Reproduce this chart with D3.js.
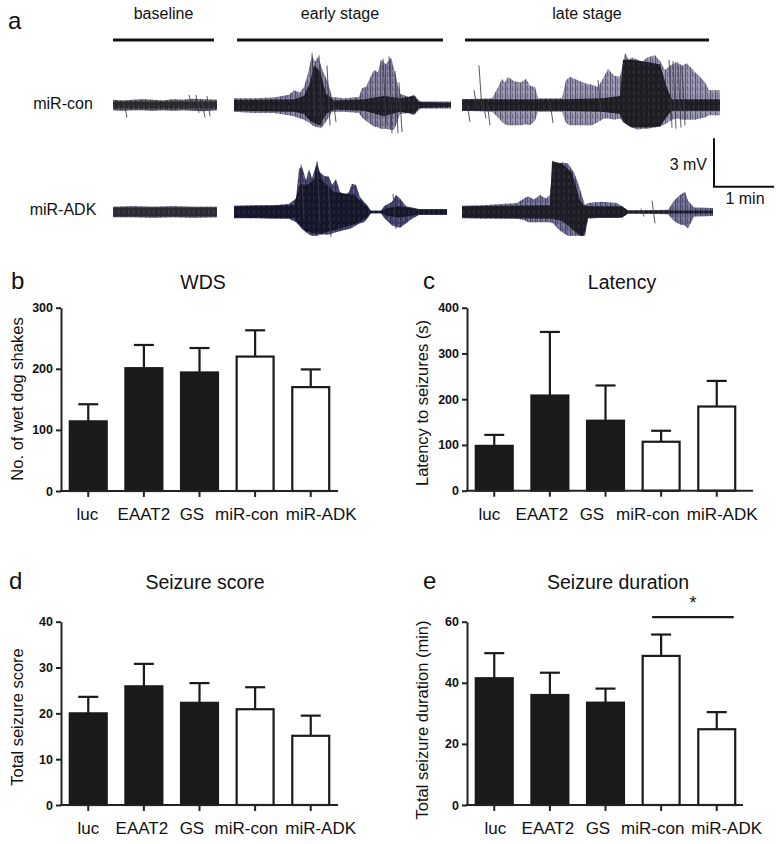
<!DOCTYPE html>
<html><head><meta charset="utf-8">
<script src="https://cdn.jsdelivr.net/npm/d3@7"></script>
<style>
body{margin:0;background:#fff}
svg{display:block}
text{font-family:"Liberation Sans", Arial, Helvetica, sans-serif;fill:#111}
</style>
</head><body>
<svg id="chart" width="782" height="844"></svg>
<script>
// ---------------- DATA ----------------
const categories = ["luc","EAAT2","GS","miR-con","miR-ADK"];
const isFilled = [true,true,true,false,false];

const wdsMean = [114,201,194,220,170];
const wdsErr  = [28,38,40,43,29];
const wdsTicks = [0,100,200,300];

const latMean = [98,208,153,107,184];
const latErr  = [24,139,77,24,56];
const latTicks = [0,100,200,300,400];

const scoreMean = [20,25.9,22.3,20.9,15.1];
const scoreErr  = [3.6,4.9,4.3,4.8,4.4];
const scoreTicks = [0,10,20,30,40];

const durMean = [41.5,36,33.5,48.8,24.8];
const durErr  = [8.2,7.3,4.6,7.0,5.6];
const durTicks = [0,20,40,60];

const stageLabels = ["baseline","early stage","late stage"];
const stageSpanSec = [101,206,244];
const rowLabels = ["miR-con","miR-ADK"];

// EEG envelopes: [time s, upper mV, lower mV]
const conBaseOuter = [[0,.32,.32],[10,.28,.35],[20,.32,.32],[30,.35,.32],[40,.32,.35],[50,.28,.32],[60,.35,.35],[70,.32,.32],[80,.39,.35],[90,.35,.39],[104,.32,.32]];
const conBaseCore  = [[0,.21,.21],[50,.21,.21],[104,.21,.21]];
const conBaseSpikes = [[12,.14,.77],[77,.63,.21],[84,.63,.49],[90,.21,.77],[95,.56,.7]];

const conEarlyOuter = [[0,.42,.42],[20,.42,.49],[40,.46,.49],[55,.63,.63],[60,.91,.7],[66,.77,.84],[70,1.12,.91],[74,1.96,1.05],[76,2.52,1.12],[78,3.08,1.26],[81,2.66,1.33],[84,3.01,1.4],[88,2.24,1.4],[91,1.82,1.12],[94,1.4,.84],[98,.49,.42],[110,.42,.42],[125,.49,.49],[128,1.05,.77],[132,1.12,.98],[135,1.54,1.12],[140,2.17,1.33],[144,2.03,1.4],[147,2.8,1.47],[152,2.52,1.47],[157,2.94,1.54],[160,2.24,1.54],[162,1.75,1.26],[166,.7,.56],[175,.49,.49],[180,.63,.63],[184,.35,.35],[187,.21,.21],[217,.21,.21]];
const conEarlyCore  = [[0,.32,.35],[60,.35,.42],[70,.56,.56],[76,1.4,.98],[80,2.45,1.12],[86,2.1,1.26],[92,.7,.56],[100,.28,.28],[130,.35,.35],[150,.56,.7],[166,.42,.42],[180,.56,.56],[185,.18,.18],[217,.14,.14]];
const conEarlySpikes = [[79,3.22,.84],[86,3.08,1.26],[94,2.45,1.26],[100,.35,1.05],[150,2.87,1.12],[156,3.01,1.75],[162,2.1,1.75],[166,1.4,1.68]];

const conLateOuter = [[0,.35,.35],[30,.42,.42],[35,.98,.7],[40,1.61,1.05],[43,1.4,1.19],[46,1.75,1.26],[52,1.47,1.26],[59,1.4,1.26],[64,1.61,1.19],[68,1.19,1.26],[73,1.12,.98],[76,.42,.42],[100,.42,.42],[104,1.54,1.12],[108,1.75,1.26],[113,1.61,1.26],[118,1.47,1.26],[124,1.33,1.26],[130,1.26,1.26],[136,1.12,1.05],[142,1.75,.84],[146,2.24,.84],[152,1.82,.91],[158,1.75,.84],[163,3.22,1.12],[167,2.8,1.33],[170,2.94,1.4],[176,2.8,1.54],[180,2.66,1.47],[185,2.94,1.47],[193,3.08,1.4],[198,2.73,1.33],[203,2.17,1.19],[210,2.52,.91],[215,2.66,.84],[220,2.45,.91],[225,2.59,.91],[233,2.03,.91],[238,1.75,.84],[243,1.4,.77],[247,.91,.63],[258,.91,.63]];
const conLateCore  = [[0,.35,.35],[100,.35,.35],[140,.42,.42],[158,.56,.56],[161,2.8,1.05],[170,2.8,1.4],[185,2.66,1.4],[198,2.52,1.33],[205,1.05,.7],[210,.35,.35],[258,.35,.35]];
const conLateSpikes = [[6,.14,1.05],[13,.91,.21],[18,2.45,.35],[22,.21,.84],[26,.21,1.26],[89,.21,1.12],[137,1.54,.42],[208,2.8,1.4],[212,2.73,1.47],[217,2.52,1.4],[221,2.38,1.26]];

const adkBaseOuter = [[0,.32,.32],[20,.35,.32],[40,.32,.35],[60,.35,.32],[80,.32,.35],[104,.32,.32]];
const adkBaseCore  = [[0,.25,.25],[104,.25,.25]];
const adkBaseSpikes = [];

const adkEarlyOuter = [[0,.39,.39],[20,.42,.39],[40,.42,.42],[55,.49,.42],[62,.84,.63],[65,2.66,.84],[68,2.8,1.05],[72,1.96,1.26],[75,2.66,1.4],[78,2.1,1.47],[83,3.08,1.47],[86,2.45,1.4],[90,2.24,1.4],[95,2.17,1.4],[98,1.68,1.33],[102,2.03,1.26],[106,1.26,1.19],[110,.98,1.12],[115,1.26,1.05],[118,1.75,.98],[122,1.68,.84],[126,.91,.7],[130,.63,.63],[134,.35,.35],[137,.07,.07],[147,.07,.07],[150,.35,.35],[158,.63,.84],[162,1.05,.91],[166,.84,.98],[172,.35,.7],[178,.28,.42],[185,.18,.18],[213,.18,.18]];
const adkEarlyCore  = [[0,.35,.35],[60,.42,.39],[66,1.75,.84],[72,1.68,1.19],[80,1.96,1.33],[83,2.94,1.33],[88,1.96,1.33],[100,1.26,1.12],[120,1.05,.77],[132,.42,.42],[136,.07,.07],[147,.07,.07],[152,.21,.21],[165,.35,.35],[185,.14,.14],[213,.14,.14]];
const adkEarlySpikes = [[68,2.94,.35],[84,3.15,.7],[95,2.24,1.54],[160,1.12,1.05]];

const adkLateOuter = [[0,.39,.39],[20,.42,.42],[40,.49,.42],[55,.56,.42],[62,.84,.49],[66,.98,.63],[72,.77,.63],[78,1.05,.63],[84,.84,.63],[88,1.05,.63],[91,3.22,.7],[95,2.8,.98],[100,3.08,1.26],[106,3.01,1.47],[112,2.45,1.47],[116,1.82,1.47],[123,.42,1.47],[126,.56,.42],[140,.63,.35],[155,.56,.35],[163,.21,.21],[166,.1,.1],[206,.14,.14],[212,.7,.56],[218,1.05,.77],[223,1.26,.84],[226,.7,1.02],[232,.28,.28],[251,.25,.25]];
const adkLateCore  = [[0,.35,.35],[88,.42,.42],[90,3.15,.42],[100,3.01,.56],[110,2.45,1.05],[118,.7,1.47],[122,.42,1.47],[126,.35,.35],[160,.35,.35],[166,.1,.1],[251,.1,.1]];
const adkLateSpikes = [[191,.7,.7],[180,.21,.28]];

const scaleBarMv = 3, scaleBarSec = 60;

// ---------------- DRAW ----------------
const svg = d3.select("#chart");
const defs = svg.append("defs");
const pat = defs.append("pattern").attr("id","tex").attr("width",5).attr("height",7).attr("patternUnits","userSpaceOnUse");
pat.append("rect").attr("x",0).attr("width",1).attr("height",7).attr("fill","#1e1e2a").attr("opacity",0.5);
pat.append("rect").attr("x",2).attr("y",2).attr("width",1).attr("height",5).attr("fill","#1e1e2a").attr("opacity",0.35);
pat.append("rect").attr("x",3.5).attr("width",0.8).attr("height",4).attr("fill","#ffffff").attr("opacity",0.25);

// Panel a
const pxPerSec = 1, pxPerMv = 16.13;
const segStart = [113,234,462];
const rowY = [105,212];

svg.append("text").attr("x",8).attr("y",29).attr("font-size",24).text("a");
stageLabels.forEach((s,i)=>{
  const x = d3.scaleLinear().domain([0,1]).range([segStart[i]+ (i===0?0:3), segStart[i]+(i===0?0:3)+pxPerSec]);
  svg.append("line").attr("x1",x(0)).attr("x2",x(stageSpanSec[i])).attr("y1",40).attr("y2",40)
     .attr("stroke","#111").attr("stroke-width",3);
  svg.append("text").attr("x",(x(0)+x(stageSpanSec[i]))/2).attr("y",19).attr("text-anchor","middle")
     .attr("font-size",16).text(s);
});
rowLabels.forEach((r,i)=>{
  svg.append("text").attr("x",63).attr("y",[109,215][i]).attr("text-anchor","middle").attr("font-size",16).text(r);
});

const traces = [
  {row:0,seg:0,outer:conBaseOuter,core:conBaseCore,spikes:conBaseSpikes,of:"#5c5b66",cf:"#2a2a2c"},
  {row:0,seg:1,outer:conEarlyOuter,core:conEarlyCore,spikes:conEarlySpikes,of:"#807e9c",cf:"#1d1d26"},
  {row:0,seg:2,outer:conLateOuter,core:conLateCore,spikes:conLateSpikes,of:"#9290ac",cf:"#1d1d22"},
  {row:1,seg:0,outer:adkBaseOuter,core:adkBaseCore,spikes:adkBaseSpikes,of:"#4a4a58",cf:"#2c2c34"},
  {row:1,seg:1,outer:adkEarlyOuter,core:adkEarlyCore,spikes:adkEarlySpikes,of:"#454470",cf:"#15152a"},
  {row:1,seg:2,outer:adkLateOuter,core:adkLateCore,spikes:adkLateSpikes,of:"#6f6e96",cf:"#1c1c26"}
];
traces.forEach(tr=>{
  const x = d3.scaleLinear().domain([0,1]).range([segStart[tr.seg], segStart[tr.seg]+pxPerSec]);
  const y = d3.scaleLinear().domain([0,1]).range([rowY[tr.row], rowY[tr.row]-pxPerMv]);
  const area = d3.area().x(d=>x(d[0])).y1(d=>y(d[1])).y0(d=>y(-d[2])).curve(d3.curveLinear);
  const g = svg.append("g");
  g.append("path").attr("d",area(tr.outer)).attr("fill",tr.of);
  g.append("path").attr("d",area(tr.outer)).attr("fill","url(#tex)");
  g.append("path").attr("d",area(tr.core)).attr("fill",tr.cf);
  g.append("path").attr("d",area(tr.core)).attr("fill","url(#tex)").attr("opacity",0.6);
  g.selectAll("line.sp").data(tr.spikes).join("line")
    .attr("x1",d=>x(d[0])-1).attr("x2",d=>x(d[0])+2)
    .attr("y1",d=>y(d[1])).attr("y2",d=>y(-d[2]))
    .attr("stroke","#3a3a48").attr("stroke-width",1).attr("opacity",0.85);
});

// scale bar
{
  const x = d3.scaleLinear().domain([0,1]).range([714, 714+pxPerSec]);
  const y = d3.scaleLinear().domain([0,1]).range([186.7, 186.7-pxPerMv]);
  svg.append("path").attr("d",`M${x(0)},${y(scaleBarMv)}V${y(0)}H${x(scaleBarSec)}`)
     .attr("fill","none").attr("stroke","#111").attr("stroke-width",2);
  svg.append("text").attr("x",707).attr("y",170).attr("text-anchor","end").attr("font-size",16).text("3 mV");
  svg.append("text").attr("x",(x(0)+x(scaleBarSec))/2+1).attr("y",204).attr("text-anchor","middle").attr("font-size",16).text("1 min");
}

// Bar panels
function panel(cfg){
  const g = svg.append("g");
  const x = d3.scaleBand().domain(categories).range([cfg.x0,cfg.x1]).paddingInner(0.3).paddingOuter(0.14);
  const y = d3.scaleLinear().domain([0,cfg.max]).range([cfg.yBot,cfg.yTop]);
  const bw = x.bandwidth();

  g.selectAll("rect.bar").data(cfg.mean).join("rect")
    .attr("x",(d,i)=>x(categories[i])+1).attr("width",bw-2)
    .attr("y",d=>y(d)).attr("height",d=>cfg.yBot-y(d))
    .attr("fill",(d,i)=>isFilled[i]?"#1a1a1a":"#fff")
    .attr("stroke","#1a1a1a").attr("stroke-width",2.2);
  const eb = g.selectAll("g.eb").data(cfg.mean).join("g");
  eb.append("line").attr("x1",(d,i)=>x(categories[i])+bw/2).attr("x2",(d,i)=>x(categories[i])+bw/2)
    .attr("y1",d=>y(d)).attr("y2",(d,i)=>y(d+cfg.err[i]))
    .attr("stroke","#1a1a1a").attr("stroke-width",2.2);
  eb.append("line").attr("x1",(d,i)=>x(categories[i])+bw/2-10).attr("x2",(d,i)=>x(categories[i])+bw/2+10)
    .attr("y1",(d,i)=>y(d+cfg.err[i])).attr("y2",(d,i)=>y(d+cfg.err[i]))
    .attr("stroke","#1a1a1a").attr("stroke-width",2.2);

  const ya = g.append("g").attr("transform",`translate(${cfg.x0},0)`)
    .call(d3.axisLeft(y).tickValues(cfg.ticks).tickSize(5).tickSizeOuter(0).tickPadding(3));
  ya.select(".domain").attr("stroke","#222").attr("stroke-width",2);
  ya.selectAll(".tick line").attr("stroke","#222").attr("stroke-width",2);
  ya.selectAll(".tick text").attr("font-size",12.5).attr("font-weight","bold").attr("fill","#222")
    .attr("font-family",'"Liberation Sans", Arial, sans-serif');

  const xa = g.append("g").attr("transform",`translate(0,${cfg.yBot})`)
    .call(d3.axisBottom(x).tickSize(6).tickSizeOuter(0).tickPadding(11));
  xa.select(".domain").remove();
  xa.append("line").attr("x1",cfg.x0-1).attr("x2",cfg.axisEnd).attr("y1",0).attr("y2",0)
    .attr("stroke","#222").attr("stroke-width",2);
  xa.selectAll(".tick line").attr("stroke","#222").attr("stroke-width",2);
  xa.selectAll(".tick text").attr("font-size",17).attr("fill","#111")
    .attr("font-family",'"Liberation Sans", Arial, sans-serif')
    .attr("dx",(d,i)=>cfg.labelShift[i]);

  g.append("text").attr("x",cfg.letterX).attr("y",cfg.titleY).attr("font-size",24).text(cfg.letter);
  g.append("text").attr("x",cfg.titleX).attr("y",cfg.titleY).attr("text-anchor","middle").attr("font-size",19.5).text(cfg.title);
  g.append("text").attr("transform",`translate(${cfg.ylabX},${cfg.ylabY}) rotate(-90)`)
    .attr("text-anchor","middle").attr("font-size",16.5).text(cfg.ylab);
  return {x,y,g};
}

panel({x0:61,x1:338,axisEnd:338,yTop:307.7,yBot:491,max:300,ticks:wdsTicks,mean:wdsMean,err:wdsErr,
  labelShift:[-1,0,-7.6,-8.4,10.4],
  letter:"b",letterX:11,title:"WDS",titleX:203,titleY:289,ylab:"No. of wet dog shakes",ylabX:23,ylabY:399});
panel({x0:467,x1:744,axisEnd:753,yTop:307.7,yBot:490.7,max:400,ticks:latTicks,mean:latMean,err:latErr,
  labelShift:[-5,-8,-13.6,-13.4,5.4],
  letter:"c",letterX:423,title:"Latency",titleX:622,titleY:289,ylab:"Latency to seizures (s)",ylabX:428,ylabY:403});
panel({x0:61,x1:338,axisEnd:338,yTop:621.7,yBot:805,max:40,ticks:scoreTicks,mean:scoreMean,err:scoreErr,
  labelShift:[0,-2,-7.6,-8.9,9.9],
  letter:"d",letterX:9,title:"Seizure score",titleX:205,titleY:589,ylab:"Total seizure score",ylabX:23,ylabY:717});
const pe = panel({x0:467,x1:744,axisEnd:743,yTop:621.7,yBot:805,max:60,ticks:durTicks,mean:durMean,err:durErr,
  labelShift:[1,-2,-7.6,-8.4,9.9],
  letter:"e",letterX:423,title:"Seizure duration",titleX:618,titleY:589,ylab:"Total seizure duration (min)",ylabX:428,ylabY:720});

{
  const bw = pe.x.bandwidth();
  const xa = pe.x("miR-con")+bw/2-9, xb = pe.x("miR-ADK")+bw/2+17;
  const yy = pe.y(60)-4.5;
  pe.g.append("line").attr("x1",xa).attr("x2",xb).attr("y1",yy).attr("y2",yy).attr("stroke","#1a1a1a").attr("stroke-width",2.2);
  pe.g.append("text").attr("x",(xa+xb)/2).attr("y",yy-8).attr("text-anchor","middle").attr("font-size",18).text("*");
}
</script>
</body></html>
